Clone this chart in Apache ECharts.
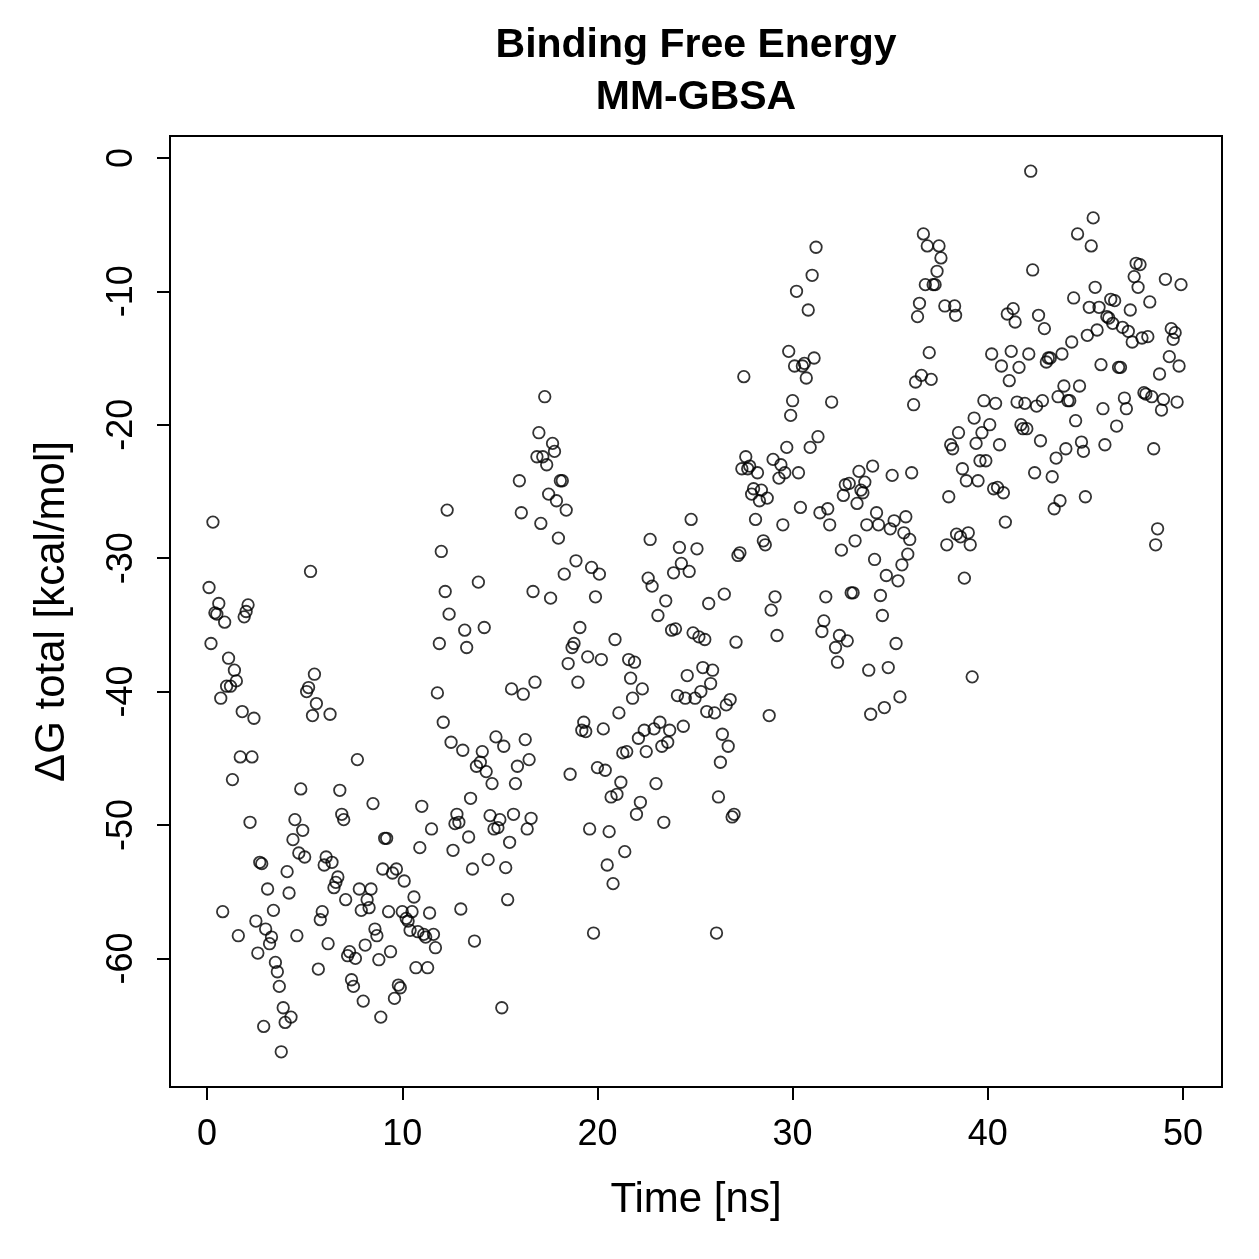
<!DOCTYPE html>
<html>
<head>
<meta charset="utf-8">
<script src="https://cdn.jsdelivr.net/npm/echarts@6/dist/echarts.min.js"></script>
<style>
  html, body { margin: 0; padding: 0; background: #fff; }
  #chart { width: 1259px; height: 1259px; }
</style>
</head>
<body>
<div id="chart"></div>
<script>
// [time (ns), dG total (kcal/mol)], one block per 10 ns
const run0to10 = [
  [0.1,-32.2],[0.2,-36.4],[0.3,-27.3],[0.4,-34.1],[0.5,-34.2],[0.6,-33.4],[0.7,-40.5],[0.8,-56.5],[0.9,-34.8],[1.0,-39.6],
  [1.1,-37.5],[1.2,-39.6],[1.3,-46.6],[1.4,-38.4],[1.5,-39.2],[1.6,-58.3],[1.7,-44.9],[1.8,-41.5],[1.9,-34.4],[2.0,-34.0],
  [2.1,-33.5],[2.2,-49.8],[2.3,-44.9],[2.4,-42.0],[2.5,-57.2],[2.6,-59.6],[2.7,-52.8],[2.8,-52.9],[2.9,-65.1],[3.0,-57.8],
  [3.1,-54.8],[3.2,-58.9],[3.3,-58.4],[3.4,-56.4],[3.5,-60.3],[3.6,-61.0],[3.7,-62.1],[3.8,-67.0],[3.9,-63.7],[4.0,-64.8],
  [4.1,-53.5],[4.2,-55.1],[4.3,-64.4],[4.4,-51.1],[4.5,-49.6],[4.6,-58.3],[4.7,-52.1],[4.8,-47.3],[4.9,-50.4],[5.0,-52.4],
  [5.1,-40.0],[5.2,-39.7],[5.3,-31.0],[5.4,-41.8],[5.5,-38.7],[5.6,-40.9],[5.7,-60.8],[5.8,-57.1],[5.9,-56.5],[6.0,-53.0],
  [6.1,-52.4],[6.2,-58.9],[6.3,-41.7],[6.4,-52.8],[6.5,-54.7],[6.6,-54.3],[6.7,-53.9],[6.8,-47.4],[6.9,-49.2],[7.0,-49.6],
  [7.1,-55.6],[7.2,-59.8],[7.3,-59.5],[7.4,-61.6],[7.5,-62.1],[7.6,-60.0],[7.7,-45.1],[7.8,-54.8],[7.9,-56.4],[8.0,-63.2],
  [8.1,-59.0],[8.2,-55.6],[8.3,-56.2],[8.4,-54.8],[8.5,-48.4],[8.6,-57.8],[8.7,-58.3],[8.8,-60.1],[8.9,-64.4],[9.0,-53.3],
  [9.1,-51.0],[9.2,-51.0],[9.3,-56.5],[9.4,-59.5],[9.5,-53.6],[9.6,-63.0],[9.7,-53.3],[9.8,-62.0],[9.9,-62.2]
];
const run10to20 = [
  [10.0,-56.5],[10.1,-54.2],[10.2,-57.0],[10.3,-57.2],[10.4,-57.9],[10.5,-56.5],[10.6,-55.4],[10.7,-60.7],[10.8,-58.0],[10.9,-51.7],
  [11.0,-48.6],[11.1,-58.2],[11.2,-58.4],[11.3,-60.7],[11.4,-56.6],[11.5,-50.3],[11.6,-58.2],[11.7,-59.2],[11.8,-40.1],[11.9,-36.4],
  [12.0,-29.5],[12.1,-42.3],[12.2,-32.5],[12.3,-26.4],[12.4,-34.2],[12.5,-43.8],[12.6,-51.9],[12.7,-49.9],[12.8,-49.2],[12.9,-49.8],
  [13.0,-56.3],[13.1,-44.4],[13.2,-35.4],[13.3,-36.7],[13.4,-50.9],[13.5,-48.0],[13.6,-53.3],[13.7,-58.7],[13.8,-45.6],[13.9,-31.8],
  [14.0,-45.3],[14.1,-44.5],[14.2,-35.2],[14.3,-46.0],[14.4,-52.6],[14.5,-49.3],[14.6,-46.9],[14.7,-50.3],[14.8,-43.4],[14.9,-50.2],
  [15.0,-49.6],[15.1,-63.7],[15.2,-44.1],[15.3,-53.2],[15.4,-55.6],[15.5,-51.3],[15.6,-39.8],[15.7,-49.2],[15.8,-46.9],[15.9,-45.6],
  [16.0,-24.2],[16.1,-26.6],[16.2,-40.2],[16.3,-43.6],[16.4,-50.3],[16.5,-45.1],[16.6,-49.5],[16.7,-32.5],[16.8,-39.3],[16.9,-22.4],
  [17.0,-20.6],[17.1,-27.4],[17.2,-22.4],[17.3,-17.9],[17.4,-23.0],[17.5,-25.2],[17.6,-33.0],[17.7,-21.4],[17.8,-22.0],[17.9,-25.7],
  [18.0,-28.5],[18.1,-24.2],[18.2,-24.2],[18.3,-31.2],[18.4,-26.4],[18.5,-37.9],[18.6,-46.2],[18.7,-36.7],[18.8,-36.4],[18.9,-30.2],
  [19.0,-39.3],[19.1,-35.2],[19.2,-42.9],[19.3,-42.3],[19.4,-43.0],[19.5,-37.4],[19.6,-50.3],[19.7,-30.7],[19.8,-58.1],[19.9,-32.9]
];
const run20to30 = [
  [20.0,-45.7],[20.1,-31.2],[20.2,-37.6],[20.3,-42.8],[20.4,-45.9],[20.5,-53.0],[20.6,-50.5],[20.7,-47.9],[20.8,-54.4],[20.9,-36.1],
  [21.0,-47.7],[21.1,-41.6],[21.2,-46.8],[21.3,-44.6],[21.4,-52.0],[21.5,-44.5],[21.6,-37.6],[21.7,-39.0],[21.8,-40.5],[21.9,-37.8],
  [22.0,-49.2],[22.1,-43.5],[22.2,-48.3],[22.3,-39.8],[22.4,-42.9],[22.5,-44.5],[22.6,-31.5],[22.7,-28.6],[22.8,-32.1],[22.9,-42.8],
  [23.0,-46.9],[23.1,-34.3],[23.2,-42.3],[23.3,-44.1],[23.4,-49.8],[23.5,-33.2],[23.6,-43.8],[23.7,-42.9],[23.8,-35.4],[23.9,-31.1],
  [24.0,-35.3],[24.1,-40.3],[24.2,-29.2],[24.3,-30.4],[24.4,-42.6],[24.5,-40.5],[24.6,-38.8],[24.7,-31.0],[24.8,-27.1],[24.9,-35.6],
  [25.0,-40.5],[25.1,-29.3],[25.2,-35.9],[25.3,-40.0],[25.4,-38.2],[25.5,-36.1],[25.6,-41.5],[25.7,-33.4],[25.8,-39.4],[25.9,-38.4],
  [26.0,-41.6],[26.1,-58.1],[26.2,-47.9],[26.3,-45.3],[26.4,-43.2],[26.5,-32.7],[26.6,-41.0],[26.7,-44.1],[26.8,-40.6],[26.9,-49.4],
  [27.0,-49.2],[27.1,-36.3],[27.2,-29.8],[27.3,-29.6],[27.4,-23.3],[27.5,-16.4],[27.6,-22.4],[27.7,-23.3],[27.8,-23.1],[27.9,-25.2],
  [28.0,-24.8],[28.1,-27.1],[28.2,-23.6],[28.3,-25.7],[28.4,-24.9],[28.5,-28.7],[28.6,-29.0],[28.7,-25.5],[28.8,-41.8],[28.9,-33.9],
  [29.0,-22.6],[29.1,-32.9],[29.2,-35.8],[29.3,-24.0],[29.4,-23.0],[29.5,-27.5],[29.6,-23.6],[29.7,-21.7],[29.8,-14.5],[29.9,-19.3]
];
const run30to40 = [
  [30.0,-18.2],[30.1,-15.6],[30.2,-10.0],[30.3,-23.6],[30.4,-26.2],[30.5,-15.6],[30.6,-15.4],[30.7,-16.5],[30.8,-11.4],[30.9,-21.7],
  [31.0,-8.8],[31.1,-15.0],[31.2,-6.7],[31.3,-20.9],[31.4,-26.6],[31.5,-35.5],[31.6,-34.7],[31.7,-32.9],[31.8,-26.3],[31.9,-27.5],
  [32.0,-18.3],[32.2,-36.7],[32.3,-37.8],[32.4,-35.8],[32.5,-29.4],[32.6,-25.3],[32.7,-24.5],[32.8,-36.2],[32.9,-24.4],[33.0,-32.6],
  [33.1,-32.6],[33.2,-28.7],[33.3,-25.9],[33.4,-23.5],[33.5,-24.9],[33.6,-25.1],[33.7,-24.3],[33.8,-27.5],[33.9,-38.4],[34.0,-41.7],
  [34.1,-23.1],[34.2,-30.1],[34.3,-26.6],[34.4,-27.5],[34.5,-32.8],[34.6,-34.3],[34.7,-41.2],[34.8,-31.3],[34.9,-38.2],[35.0,-27.8],
  [35.1,-23.8],[35.2,-27.2],[35.3,-36.4],[35.4,-31.7],[35.5,-40.4],[35.6,-30.5],[35.7,-28.1],[35.8,-26.9],[35.9,-29.7],[36.0,-28.6],
  [36.1,-23.6],[36.2,-18.5],[36.3,-16.8],[36.4,-11.9],[36.5,-10.9],[36.6,-16.3],[36.7,-5.7],[36.8,-9.5],[36.9,-6.6],[37.0,-14.6],
  [37.1,-16.6],[37.2,-9.5],[37.3,-9.5],[37.4,-8.5],[37.5,-6.6],[37.6,-7.5],[37.8,-11.1],[37.9,-29.0],[38.0,-25.4],[38.1,-21.5],
  [38.2,-21.8],[38.3,-11.1],[38.35,-11.8],[38.4,-28.2],[38.5,-20.6],[38.6,-28.4],[38.7,-23.3],[38.8,-31.5],[38.9,-24.2],[39.0,-28.1],
  [39.1,-29.0],[39.2,-38.9],[39.3,-19.5],[39.4,-21.4],[39.5,-24.2],[39.6,-22.7],[39.7,-20.6],[39.8,-18.2],[39.9,-22.7]
];
const run40to50 = [
  [40.1,-20.0],[40.2,-14.7],[40.3,-24.8],[40.4,-18.4],[40.5,-24.7],[40.6,-21.5],[40.7,-15.6],[40.8,-25.1],[40.9,-27.3],[41.0,-11.7],
  [41.1,-16.7],[41.2,-14.5],[41.3,-11.3],[41.4,-12.3],[41.5,-18.3],[41.6,-15.7],[41.7,-20.0],[41.8,-20.3],[41.9,-18.4],[42.0,-20.3],
  [42.1,-14.7],[42.2,-1.0],[42.3,-8.4],[42.4,-23.6],[42.5,-18.6],[42.6,-11.8],[42.7,-21.2],[42.8,-18.2],[42.9,-12.8],[43.0,-15.3],
  [43.1,-15.0],[43.2,-15.0],[43.3,-23.9],[43.4,-26.3],[43.5,-22.5],[43.6,-17.9],[43.7,-25.7],[43.8,-14.7],[43.9,-17.1],[44.0,-21.8],
  [44.1,-18.2],[44.2,-18.2],[44.3,-13.8],[44.4,-10.5],[44.5,-19.7],[44.6,-5.7],[44.7,-17.1],[44.8,-21.3],[44.9,-22.0],[45.0,-25.4],
  [45.1,-13.3],[45.2,-11.2],[45.3,-6.6],[45.4,-4.5],[45.5,-9.7],[45.6,-12.9],[45.7,-11.2],[45.8,-15.5],[45.9,-18.8],[46.0,-21.5],
  [46.1,-11.9],[46.2,-12.0],[46.3,-10.6],[46.4,-12.4],[46.5,-10.7],[46.6,-20.1],[46.7,-15.7],[46.8,-15.7],[46.9,-12.7],[47.0,-18.0],
  [47.1,-18.8],[47.2,-13.0],[47.3,-11.4],[47.4,-13.8],[47.5,-8.9],[47.6,-7.9],[47.7,-9.7],[47.8,-8.0],[47.9,-13.5],[48.0,-17.6],
  [48.1,-17.7],[48.2,-13.4],[48.3,-10.8],[48.4,-17.9],[48.5,-21.8],[48.6,-29.0],[48.7,-27.8],[48.8,-16.2],[48.9,-18.9],[49.0,-18.1],
  [49.1,-9.1],[49.3,-14.9],[49.4,-12.8],[49.5,-13.6],[49.6,-13.1],[49.7,-18.3],[49.8,-15.6],[49.9,-9.5]
];

const xTicks = [0, 10, 20, 30, 40, 50];
const yTicks = [0, -10, -20, -30, -40, -50, -60];

const allPoints = [].concat(run0to10, run10to20, run20to30, run30to40, run40to50);

const myChart = echarts.init(document.getElementById('chart'));
const font = 'Liberation Sans';

myChart.setOption({
  animation: false,
  backgroundColor: '#ffffff',
  textStyle: { fontFamily: font },
  graphic: [
    {
      type: 'text',
      style: {
        x: 696, y: 46, text: 'Binding Free Energy',
        textAlign: 'center', textVerticalAlign: 'middle',
        font: 'bold 41px "Liberation Sans"', fill: '#000'
      }
    },
    {
      type: 'text',
      style: {
        x: 696, y: 98, text: 'MM-GBSA',
        textAlign: 'center', textVerticalAlign: 'middle',
        font: 'bold 41px "Liberation Sans"', fill: '#000'
      }
    }
  ],
  grid: {
    left: 170,
    top: 136,
    width: 1052,
    height: 951,
    show: true,
    borderColor: '#000',
    borderWidth: 2,
    backgroundColor: 'transparent'
  },
  xAxis: {
    type: 'value',
    min: -1.9,
    max: 52.0,
    name: 'Time [ns]',
    nameLocation: 'middle',
    nameGap: 92,
    nameTextStyle: { fontSize: 42, color: '#000', fontFamily: font },
    axisLine: { show: false, onZero: false },
    splitLine: { show: false },
    axisTick: {
      show: true, inside: false, length: 13,
      customValues: xTicks,
      lineStyle: { color: '#000', width: 2 }
    },
    axisLabel: {
      customValues: xTicks,
      margin: 30,
      fontSize: 36,
      color: '#000',
      fontFamily: font
    }
  },
  yAxis: {
    type: 'value',
    min: -69.64,
    max: 1.64,
    name: 'ΔG total [kcal/mol]',
    nameLocation: 'middle',
    nameGap: 97,
    nameRotate: 90,
    nameTextStyle: { fontSize: 42, color: '#000', fontFamily: font },
    axisLine: { show: false, onZero: false },
    splitLine: { show: false },
    axisTick: {
      show: true, inside: false, length: 13,
      customValues: yTicks,
      lineStyle: { color: '#000', width: 2 }
    },
    axisLabel: {
      customValues: yTicks,
      rotate: 90,
      margin: 30,
      fontSize: 36,
      color: '#000',
      fontFamily: font
    }
  },
  series: [
    {
      type: 'scatter',
      data: allPoints,
      symbol: 'circle',
      symbolSize: 11.5,
      itemStyle: {
        color: 'rgba(0,0,0,0)',
        borderColor: '#000',
        borderWidth: 1.8
      },
      emphasis: { disabled: true }
    }
  ]
});
</script>
</body>
</html>
